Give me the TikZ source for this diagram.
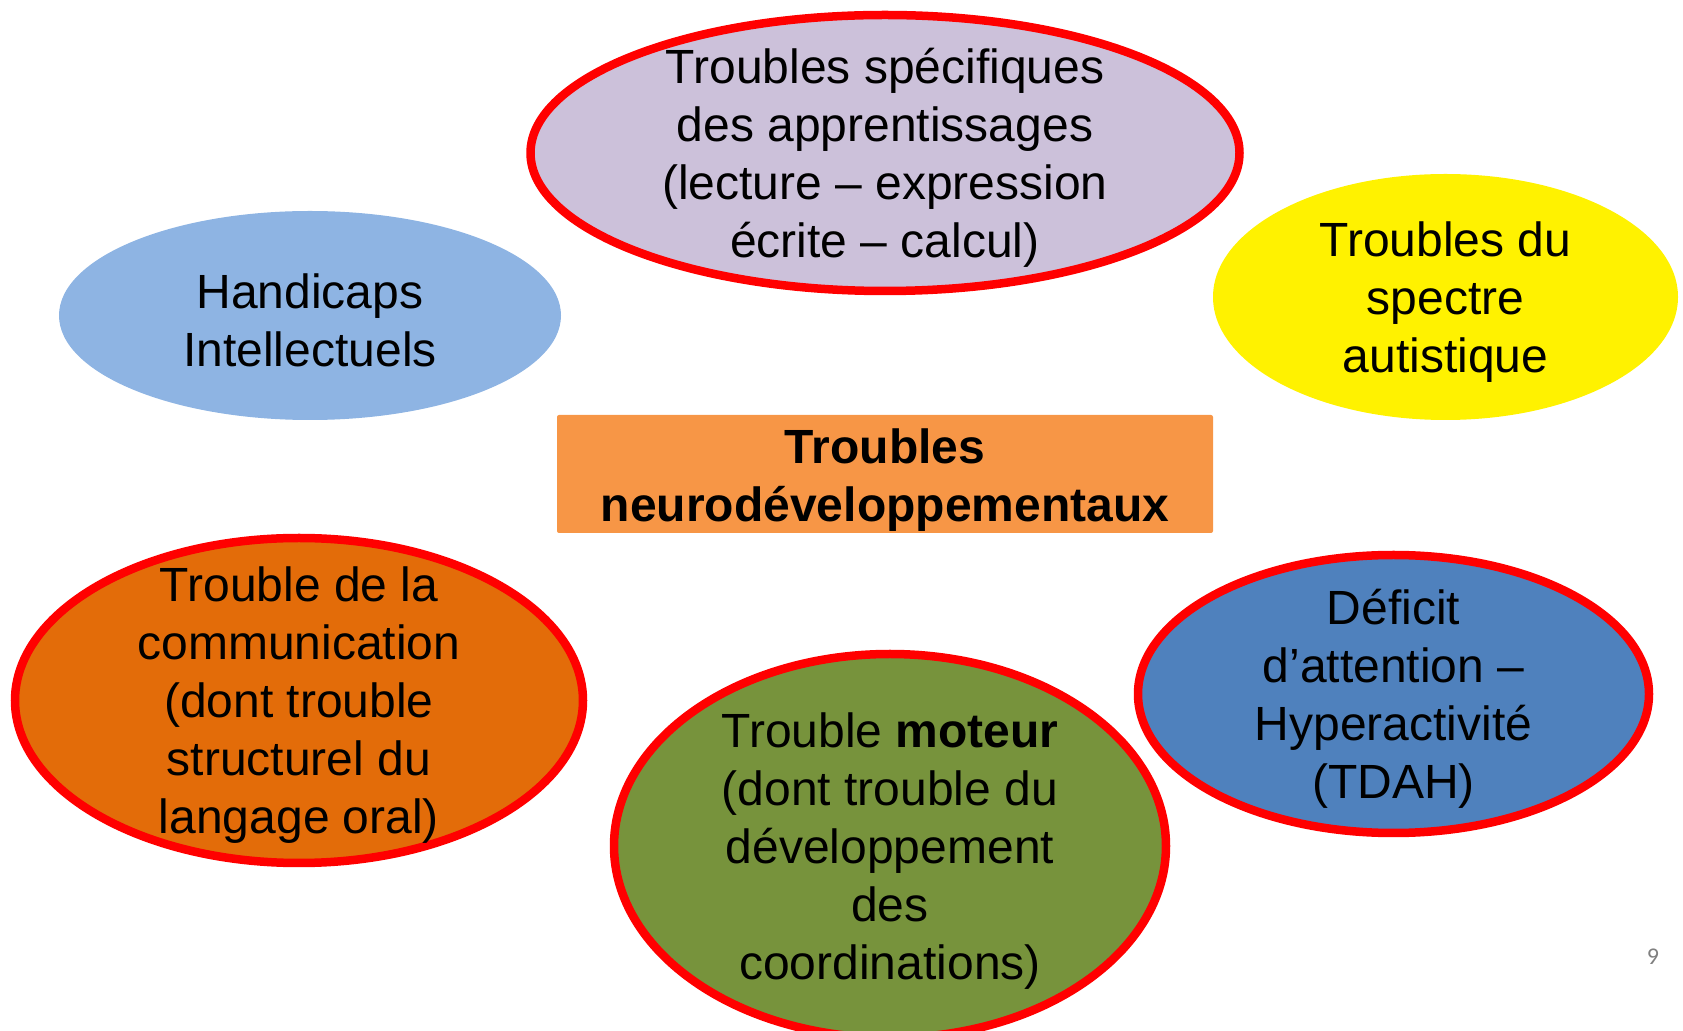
\documentclass[tikz,border=0pt]{standalone}
\usepackage{fontspec}
\setmainfont{Liberation Sans}
\newfontfamily\pagefont{Carlito}
\usepackage{tikz}
\usetikzlibrary{positioning}
\usetikzlibrary{shapes.geometric}
\definecolor{lilac}{HTML}{CCC1DA}
\definecolor{skyblue}{HTML}{8EB4E3}
\definecolor{boxorange}{HTML}{F79646}
\definecolor{darkorange}{HTML}{E36C09}
\definecolor{olivegreen}{HTML}{77933C}
\definecolor{steelblue}{HTML}{4F81BD}
\tikzstyle{trouble shape}=[ellipse,inner sep=0pt]
\tikzstyle{red rim}=[draw=red,line width=4.25pt]
\tikzstyle{trouble text}=[align=center,inner sep=0pt,yshift=-2.5pt,font=\fontsize{24}{29}\selectfont]
\tikzstyle{neuro box}=[fill=boxorange,rounded corners=1pt,minimum width=328pt,minimum height=59pt]
\newcommand{\troublenode}[3][]{
  \node [trouble shape, #1] (#2) {};
  \node [trouble text] (#2-text) at (#2) {#3}
}

\begin{document}
\begin{tikzpicture}[x=0.5pt,y=-0.5pt,on grid]
        \useasboundingbox (0,0) rectangle (1683,1031);
        \node[neuro box] (neuro) at (885,474) {};
        \node[trouble text, yshift=-0.5pt, font=\fontsize{24}{29}\selectfont\bfseries] (neuro-text) at (neuro) {Troubles\\neurodéveloppementaux};
        \troublenode[above=160.5pt of neuro, fill=lilac, red rim, minimum width=354.5pt, minimum height=138pt]{appr}{Troubles spécifiques\\des apprentissages\\(lecture – expression\\écrite – calcul)};
        \troublenode[above left=79.25pt and 287.5pt of neuro, fill=skyblue, minimum width=251pt, minimum height=104.5pt]{hi}{Handicaps\\Intellectuels};
        \troublenode[above right=88.5pt and 280.25pt of neuro, fill=yellow, minimum width=232.5pt, minimum height=123pt]{tsa}{Troubles du\\spectre\\autistique};
        \troublenode[below left=113.25pt and 293pt of neuro, fill=darkorange, red rim, minimum width=284pt, minimum height=162.5pt]{com}{Trouble de la\\communication\\(dont trouble\\structurel du\\langage oral)};
        \troublenode[below right=186pt and 2.5pt of neuro, fill=olivegreen, red rim, minimum width=276pt, minimum height=192pt]{mot}{Trouble \textbf{moteur}\\(dont trouble du\\développement\\des\\coordinations)};
        \troublenode[below right=110pt and 254.25pt of neuro, fill=steelblue, red rim, minimum width=255.5pt, minimum height=139pt]{tdah}{Déficit\\d’attention –\\Hyperactivité\\(TDAH)};

{\color{gray}
\node[font=\pagefont\fontsize{12}{14}\selectfont] (pnum) at (1653,957) {9};
}

      \end{tikzpicture}
\end{document}
